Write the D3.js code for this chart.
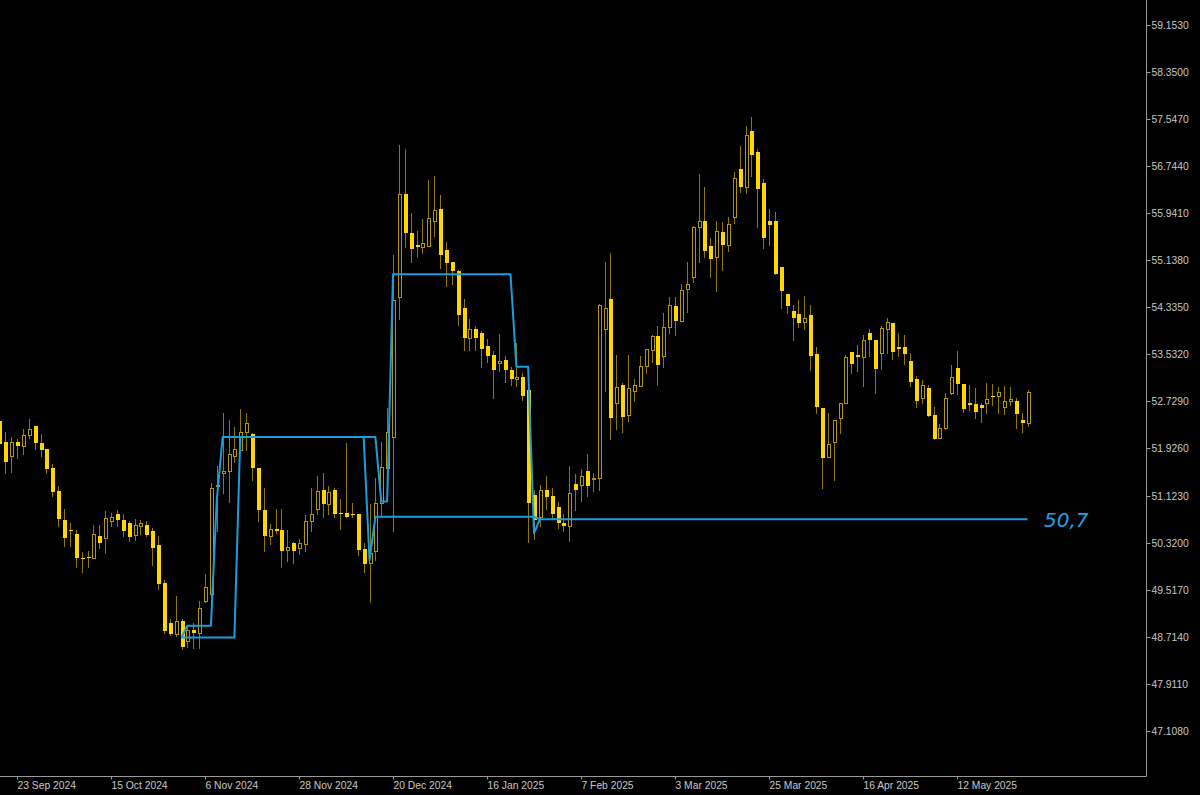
<!DOCTYPE html>
<html>
<head>
<meta charset="utf-8">
<script src="https://cdn.jsdelivr.net/npm/d3@7/dist/d3.min.js"></script>
<style>
html, body { margin: 0; padding: 0; background: #000; }
svg { display: block; }
</style>
</head>
<body>
<svg id="chart"></svg>
<script>
// daily bars, oldest first
var openP = [
52.40,52.03,51.80,52.04,51.97,52.16,52.31,52.02,51.91,51.59,51.20,50.70,50.53,50.47,50.06,50.07,
50.05,50.43,50.39,50.69,50.81,50.70,50.66,50.45,50.61,50.62,50.51,50.28,49.63,48.95,48.76,48.98,
48.64,48.83,48.77,49.32,49.44,51.29,51.50,51.54,51.79,51.90,52.20,52.17,51.60,50.88,50.43,50.55,
50.53,50.20,50.32,50.22,50.30,50.69,50.89,51.21,50.97,51.22,50.82,50.82,50.81,50.81,50.21,49.98,
50.18,50.99,51.59,52.12,54.51,56.27,55.61,55.40,55.37,55.39,55.80,56.01,55.31,55.10,54.95,54.32,
53.81,53.97,53.90,53.68,53.52,53.39,53.44,53.27,53.11,53.15,52.92,51.13,50.75,51.22,51.12,50.93,
50.66,50.60,51.32,51.30,51.54,51.40,51.43,53.96,54.48,52.71,53.01,52.50,52.91,53.00,53.33,53.61,
53.85,53.51,54.00,54.36,54.11,54.65,54.85,55.71,55.81,55.38,55.20,55.62,55.40,55.87,56.69,56.38,
57.34,56.98,56.45,55.81,55.81,55.03,54.56,54.27,54.22,54.09,54.21,53.53,52.61,51.78,52.03,52.44,
52.71,53.57,53.52,53.48,53.89,53.78,53.55,53.96,54.06,53.66,53.66,53.42,53.11,52.78,52.96,52.49,
52.10,52.28,52.88,53.30,53.02,52.70,52.69,52.66,52.70,52.83,52.83,52.63,52.73,52.74,52.41,52.36
];
var highP = [
52.45,52.20,52.13,52.08,52.26,52.43,52.31,52.17,51.91,51.66,51.29,50.89,50.66,50.53,50.16,50.18,
50.62,50.62,50.86,50.83,50.88,50.80,50.69,50.72,50.70,50.69,50.57,50.43,49.68,49.01,49.41,49.02,
48.91,48.95,49.32,49.79,51.33,51.62,52.54,52.41,52.29,52.60,52.53,52.19,51.60,51.26,50.64,50.89,
50.89,50.53,50.33,50.38,50.79,51.25,51.46,51.50,51.29,51.25,51.06,52.02,50.99,50.81,50.31,50.97,
51.42,52.03,52.61,55.23,57.11,57.04,55.94,55.63,55.85,56.51,56.57,56.25,55.45,55.10,54.97,54.47,
54.14,54.01,53.93,53.80,53.59,53.88,53.51,53.32,53.72,53.22,52.95,51.22,51.30,51.45,51.26,51.02,
50.81,51.63,51.49,51.58,51.84,51.51,54.39,55.10,55.27,53.52,53.04,53.52,53.12,53.51,53.63,53.86,
54.02,54.24,54.51,54.51,54.73,55.10,55.72,56.61,56.38,55.51,55.81,55.79,55.88,56.65,57.09,57.43,
57.58,57.04,56.53,56.01,55.96,55.03,54.56,54.37,54.46,54.52,54.38,53.65,52.61,52.54,52.42,52.70,
53.52,53.58,53.69,53.86,53.97,53.78,54.02,54.15,54.06,53.89,53.86,53.55,53.16,53.10,53.01,52.63,
52.34,52.88,53.35,53.59,53.03,53.01,52.96,52.71,53.04,53.02,52.98,53.00,52.98,52.79,52.53,52.92
];
var lowP = [
51.97,51.50,51.53,51.77,51.83,52.11,51.92,51.80,51.51,51.12,50.61,50.27,50.27,49.91,49.81,49.91,
50.05,50.23,50.14,50.60,50.61,50.43,50.35,50.37,50.47,50.43,49.94,49.52,48.77,48.74,48.72,48.51,
48.53,48.52,48.52,49.31,49.37,50.51,51.16,51.02,51.70,51.90,51.90,51.38,50.69,50.18,50.29,50.48,
49.91,50.01,49.97,50.12,50.17,50.51,50.81,50.76,50.81,50.76,50.55,50.76,50.75,50.11,49.81,49.31,
50.02,50.79,51.50,50.52,54.14,55.36,55.11,55.20,55.27,55.39,55.55,55.00,54.70,54.73,54.03,53.60,
53.61,53.61,53.31,53.40,52.79,53.24,53.06,53.01,53.00,52.76,50.33,50.38,50.60,50.89,50.72,50.57,
50.51,50.35,50.88,51.03,51.12,51.20,51.21,52.91,52.08,52.26,52.21,52.40,52.74,52.99,53.22,53.41,
53.01,53.31,53.89,53.86,54.11,54.26,54.76,55.11,55.20,54.85,54.62,54.98,55.29,55.77,56.30,56.29,
56.57,55.70,55.35,55.40,54.90,54.32,54.23,53.77,54.00,53.97,53.26,52.54,51.26,51.78,51.38,52.19,
52.70,53.21,53.24,53.00,53.51,52.88,53.29,53.56,53.45,53.51,53.37,52.99,52.64,52.71,52.48,52.09,
52.10,52.26,52.86,52.86,52.55,52.58,52.44,52.37,52.53,52.66,52.53,52.51,52.66,52.28,52.20,52.31
];
var closeP = [
52.00,51.70,52.04,51.97,52.16,52.26,52.02,51.90,51.58,51.19,50.72,50.40,50.52,50.06,50.05,50.05,
50.47,50.31,50.74,50.76,50.70,50.51,50.42,50.62,50.66,50.45,50.22,49.61,48.81,48.76,48.98,48.53,
48.83,48.77,49.20,49.56,51.25,51.31,51.55,51.84,51.91,52.21,52.36,51.59,50.87,50.43,50.56,50.52,
50.17,50.24,50.18,50.31,50.69,50.81,51.20,50.98,51.18,50.80,50.80,50.76,50.80,50.19,49.96,50.14,
50.99,51.61,52.21,54.46,56.27,55.60,55.33,55.36,55.43,55.86,56.00,55.23,55.09,54.96,54.20,53.81,
53.97,53.81,53.62,53.51,53.27,53.42,53.26,53.11,53.15,52.83,51.00,50.71,51.22,51.09,50.80,50.66,
50.60,51.17,51.22,51.46,51.29,51.43,54.38,54.32,52.45,52.97,52.47,52.95,53.01,53.34,53.62,53.85,
53.35,54.00,54.37,54.11,54.63,54.73,55.71,55.80,55.30,55.16,55.64,55.40,55.76,56.55,56.38,57.27,
56.93,56.35,55.51,55.74,54.90,54.62,54.36,54.15,54.07,54.15,53.51,52.64,51.76,52.00,52.42,52.70,
53.49,53.37,53.48,53.77,53.78,53.28,53.99,54.08,53.58,53.63,53.54,53.06,52.73,53.01,52.48,52.09,
52.27,52.78,53.14,53.02,52.60,52.66,52.55,52.61,52.77,52.82,52.89,52.74,52.77,52.51,52.36,52.89
];

// indicator levels as runs: [first bar, last bar, price]
var levelARuns = [[31,31,48.70],[32,36,48.90],[37,37,51.05],[38,62,52.12],[63,63,50.02],[64,91,50.76],[92,92,50.72]];
var levelBRuns = [[31,40,48.70],[41,64,52.12],[65,66,51.02],[67,87,54.90],[88,90,53.32],[91,91,50.48],[92,175,50.72]];
var levelText = "50,7";
var levelValue = 50.72;

var xTickBars = [3,19,35,51,67,83,99,115,131,147,163];
var xTickLabels = ["23 Sep 2024","15 Oct 2024","6 Nov 2024","28 Nov 2024","20 Dec 2024","16 Jan 2025",
                   "7 Feb 2025","3 Mar 2025","25 Mar 2025","16 Apr 2025","12 May 2025"];
var yTickLabels = ["59.1530","58.3500","57.5470","56.7440","55.9410","55.1380","54.3350","53.5320",
                   "52.7290","51.9260","51.1230","50.3200","49.5170","48.7140","47.9110","47.1080"];

var WICK_COLOR = '#8f7800';
var UP_COLOR = '#b39600';
var DOWN_COLOR = '#ffd700';
var LEVEL_COLOR = '#1a9ddc';
var AXIS_COLOR = '#9a9a9a';
var TEXT_COLOR = '#c8c8c8';

var w = 1200, h = 795;
var plotRight = 1146.5, plotBottom = 776.5;

var svg = d3.select("#chart").attr("width", w).attr("height", h);
svg.append("rect").attr("width", w).attr("height", h).attr("fill", "#000");

var x = d3.scaleLinear().domain([0, openP.length - 1]).range([-0.6, 1027.5]);
var y = d3.scaleLinear().domain([47.108, 59.153]).range([730.8, 25]);

var bars = d3.range(openP.length).map(function(i) {
  return {i: i, o: openP[i], h: highP[i], l: lowP[i], c: closeP[i]};
});

var candles = svg.append("g");

// wicks first, bodies on top
candles.selectAll("line.wick")
  .data(bars)
  .enter()
    .append("line")
    .attr("class", "wick")
    .attr("x1", function(d) { return Math.round(x(d.i)) + 0.5; })
    .attr("x2", function(d) { return Math.round(x(d.i)) + 0.5; })
    .attr("y1", function(d) { return Math.round(y(d.h)); })
    .attr("y2", function(d) { return Math.round(y(d.l)) + 1; })
    .attr("stroke", WICK_COLOR)
    .attr("stroke-width", 1);

candles.selectAll("rect.body")
  .data(bars)
  .enter()
    .append("rect")
    .attr("class", "body")
    .each(function(d) {
      var px = Math.round(x(d.i));
      var top = Math.round(y(Math.max(d.o, d.c)));
      var bot = Math.round(y(Math.min(d.o, d.c)));
      var r = d3.select(this);
      if (d.c >= d.o) {
        // bullish: hollow
        r.attr("x", px - 1 + 0.5).attr("y", top + 0.5)
         .attr("width", 3).attr("height", Math.max(bot - top, 1))
         .attr("fill", "#000").attr("stroke", UP_COLOR).attr("stroke-width", 1);
      } else {
        r.attr("x", px - 1).attr("y", top)
         .attr("width", 4).attr("height", Math.max(bot - top, 1))
         .attr("fill", DOWN_COLOR);
      }
    });

// level lines
function expandRuns(runs) {
  var pts = [];
  runs.forEach(function(r) {
    for (var b = r[0]; b <= r[1]; b++) pts.push([b, r[2]]);
  });
  return pts;
}

var levelLine = d3.line()
  .x(function(d) { return x(d[0]); })
  .y(function(d) { return y(d[1]); });

[levelARuns, levelBRuns].forEach(function(runs) {
  svg.append("path")
    .datum(expandRuns(runs))
    .attr("d", levelLine)
    .attr("fill", "none")
    .attr("stroke", LEVEL_COLOR)
    .attr("stroke-width", 2)
    .attr("stroke-linejoin", "round");
});

svg.append("text")
  .attr("x", 1044)
  .attr("y", y(levelValue) + 8)
  .attr("fill", "#1ea2e6")
  .attr("font-family", "DejaVu Sans")
  .attr("font-style", "italic")
  .attr("font-size", 20)
  .text(levelText);

// frame
svg.append("line")
  .attr("x1", plotRight).attr("x2", plotRight)
  .attr("y1", 0).attr("y2", plotBottom)
  .attr("stroke", AXIS_COLOR);
svg.append("line")
  .attr("x1", 0).attr("x2", plotRight)
  .attr("y1", plotBottom).attr("y2", plotBottom)
  .attr("stroke", AXIS_COLOR);

// price axis
var yAxis = d3.axisRight(y)
  .tickValues(yTickLabels.map(Number))
  .tickFormat(function(d, i) { return yTickLabels[i]; })
  .tickSize(4)
  .tickPadding(1);

var yg = svg.append("g")
  .attr("transform", "translate(" + plotRight + ",0.5)")
  .call(yAxis);

// time axis
var xAxis = d3.axisBottom(x)
  .tickValues(xTickBars)
  .tickFormat(function(d, i) { return xTickLabels[i]; })
  .tickSize(3)
  .tickPadding(2);

var xg = svg.append("g")
  .attr("transform", "translate(0.5," + plotBottom + ")")
  .call(xAxis);

[yg, xg].forEach(function(g) {
  g.select(".domain").remove();
  g.selectAll(".tick line").attr("stroke", AXIS_COLOR);
  g.selectAll(".tick text")
    .attr("fill", TEXT_COLOR)
    .attr("font-family", "Liberation Sans, Arial, sans-serif")
    .attr("font-size", 10.3);
});
yg.selectAll(".tick").attr("transform", function(d) { return "translate(0," + Math.round(y(d)) + ")"; });
xg.selectAll(".tick").attr("transform", function(d) { return "translate(" + Math.round(x(d)) + ",0)"; });
xg.selectAll(".tick text").attr("text-anchor", "start").attr("x", 0);
</script>
</body>
</html>
